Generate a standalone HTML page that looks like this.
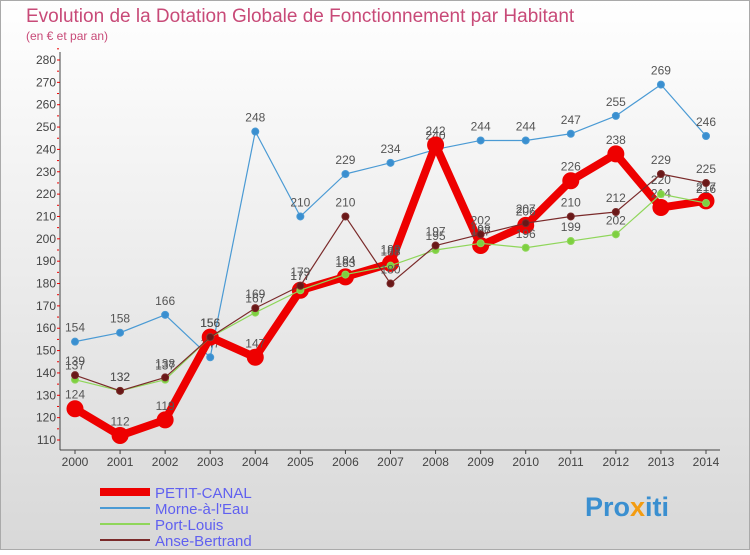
<!DOCTYPE html>
<html><head><meta charset="utf-8"><style>
body{margin:0;width:750px;height:550px;overflow:hidden;font-family:"Liberation Sans",sans-serif;}
</style></head><body>
<svg width="750" height="550" xmlns="http://www.w3.org/2000/svg">
<defs>
<linearGradient id="bg" x1="0" y1="0" x2="0" y2="1"><stop offset="0" stop-color="#ffffff"/><stop offset="1" stop-color="#d8d8d8"/></linearGradient>
</defs>
<rect x="0" y="0" width="750" height="550" fill="url(#bg)"/>
<rect x="0.5" y="0.5" width="749" height="549" fill="none" stroke="#aaa"/>
<text x="26" y="22" font-size="19" fill="#c84a78">Evolution de la Dotation Globale de Fonctionnement par Habitant</text>
<text x="26" y="40" font-size="12" fill="#c84a78">(en € et par an)</text>
<g id="axes"></g>
<g id="series"></g>
<g id="legend"></g>
<text x="585" y="516" font-size="27" font-weight="bold" fill="#3a8fd0">Pro<tspan fill="#f39c12">x</tspan>iti</text>
</svg>
<script>
const years=[2000,2001,2002,2003,2004,2005,2006,2007,2008,2009,2010,2011,2012,2013,2014];
const yTicks=[110,120,130,140,150,160,170,180,190,200,210,220,230,240,250,260,270,280];
const petitCanal=[124,112,119,156,147,177,183,189,242,197,206,226,238,214,217];
const morne=[154,158,166,147,248,210,229,234,240,244,244,247,255,269,246];
const portLouis=[137,132,137,156,167,177,184,188,195,198,196,199,202,220,216];
const anseBertrand=[139,132,138,156,169,179,210,180,197,202,207,210,212,229,225];
const NS="http://www.w3.org/2000/svg";
const x0=75,x1=706,yMin=110,yMax=280,py0=440,py1=60;
function xs(i){return x0+(x1-x0)*i/(years.length-1);}
function ys(v){return py0-(v-yMin)*(py0-py1)/(yMax-yMin);}
function mk(tag,attrs,parent){const e=document.createElementNS(NS,tag);for(const k in attrs)e.setAttribute(k,attrs[k]);parent.appendChild(e);return e;}
const axes=document.getElementById('axes');
let l=mk('line',{x1:60,y1:52,x2:60,y2:450,stroke:'#444'},axes);


l=mk('line',{x1:60,y1:450,x2:720,y2:450,stroke:'#444'},axes);


yTicks.forEach(v=>{
 const t=mk('text',{x:56,y:ys(v)+4,'font-size':12,'text-anchor':'end',fill:'#444'},axes);t.textContent=v;
 
 
 const tk=mk('line',{x1:57,y1:ys(v),x2:60,y2:ys(v),stroke:'#e00'},axes);
 
 
 const tk2=mk('line',{x1:57,y1:ys(v+5),x2:59,y2:ys(v+5),stroke:'#e00'},axes);
 
 
});
years.forEach((y,i)=>{
 const t=mk('text',{x:xs(i),y:466,'font-size':12,'text-anchor':'middle',fill:'#444'},axes);t.textContent=y;
 
 
 const tk=mk('line',{x1:xs(i),y1:450,x2:xs(i),y2:454,stroke:'#444'},axes);
 
 
});
const sg=document.getElementById('series');
function series(data,color,w,r,mcolor,name,labels){
 const g=mk('g',{},sg);
 
 
 const p=mk('polyline',{points:data.map((v,i)=>xs(i)+','+ys(v)).join(' '),fill:'none',stroke:color,'stroke-width':w,'stroke-linejoin':'round'},g);
 
 
 data.forEach((v,i)=>{
  const c=mk('circle',{cx:xs(i),cy:ys(v),r:r,fill:mcolor,stroke:color,'stroke-width':1},g);
  
  
  if(labels){
   const t=mk('text',{x:xs(i),y:ys(v)-10,'font-size':12,'text-anchor':'middle',fill:'#555'},g);t.textContent=v;
   
   
  }
 });
}
series(morne,'#4a9ad4',1.2,3.5,'#3a8fd0','morne-a-l-eau',true);
series(petitCanal,'#ee0000',8,8,'#ee0000','petit-canal',true);
series(portLouis,'#8fd65a',1.2,3.5,'#7ed040','port-louis',true);
series(anseBertrand,'#7a2a2a',1.2,3.5,'#6a1818','anse-bertrand',true);
const lg=document.getElementById('legend');
const items=[['PETIT-CANAL','#ee0000',8],['Morne-à-l\'Eau','#4a9ad4',2],['Port-Louis','#8fd65a',2],['Anse-Bertrand','#7a2a2a',2]];
items.forEach((it,k)=>{
 const y=492+k*16;
 const g=mk('g',{},lg);
 
 
 const s=mk('line',{x1:100,y1:y,x2:150,y2:y,stroke:it[1],'stroke-width':it[2]},g);
 
 
 const t=mk('text',{x:155,y:y+6,'font-size':15,fill:'#6060f0'},g);t.textContent=it[0];
 
 
});
</script>
</body></html>
